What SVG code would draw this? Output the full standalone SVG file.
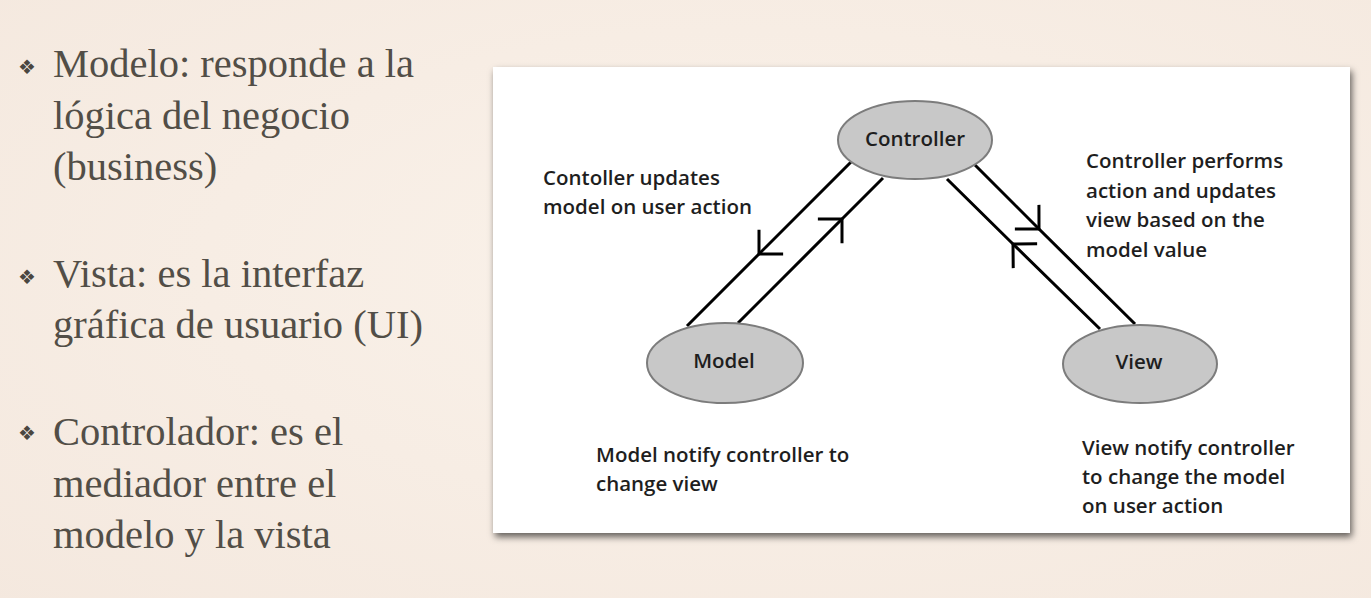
<svg xmlns="http://www.w3.org/2000/svg" width="1371" height="598" viewBox="0 0 1371 598">
  <defs>
    <radialGradient id="bg" cx="0.55" cy="0.45" r="0.8">
      <stop offset="0" stop-color="#faf2ea"/>
      <stop offset="1" stop-color="#f4e8de"/>
    </radialGradient>
    <filter id="panelShadow" x="-5%" y="-5%" width="110%" height="115%">
      <feDropShadow dx="2" dy="4" stdDeviation="3.5" flood-color="#000" flood-opacity="0.6"/>
    </filter>
    <marker id="halfArrow" viewBox="-20 -20 24 40" markerWidth="24" markerHeight="40" refX="0" refY="0" orient="auto" markerUnits="userSpaceOnUse">
      <polyline points="-16,-16 0,0 -16,16" fill="none" stroke="#000" stroke-width="3" stroke-linecap="square"/>
    </marker>
    <style>
      .bullet { font-family: "DejaVu Sans", sans-serif; font-size: 20px; fill: #4a4640; }
      .point { font-family: "Liberation Serif", "Times New Roman", serif; font-size: 40.5px; fill: #524e47; }
      .node { fill: #c8c8c8; stroke: #7c7c7c; stroke-width: 2; }
      .nlabel { font-family: "Open Sans", "Liberation Sans", sans-serif; font-weight: 600; font-size: 20.5px; fill: #1e1e1e; text-anchor: middle; }
      .note { font-family: "Open Sans", "Liberation Sans", sans-serif; font-weight: 600; font-size: 20.5px; fill: #1e1e1e; }
      .link { fill: none; stroke: #000; stroke-width: 3; marker-mid: url(#halfArrow); }
    </style>
  </defs>

  <!-- slide background -->
  <rect width="1371" height="598" fill="url(#bg)"/>

  <!-- bullet list -->
  <g id="bullets">
    <g id="bullet-modelo">
      <text class="bullet" x="27" y="74" text-anchor="middle">❖</text>
      <text class="point" x="53" y="77">Modelo: responde a la</text>
      <text class="point" x="53" y="128.5">lógica del negocio</text>
      <text class="point" x="53" y="180">(business)</text>
    </g>
    <g id="bullet-vista">
      <text class="bullet" x="27" y="284" text-anchor="middle">❖</text>
      <text class="point" x="53" y="287">Vista: es la interfaz</text>
      <text class="point" x="53" y="338">gráfica de usuario (UI)</text>
    </g>
    <g id="bullet-controlador">
      <text class="bullet" x="27" y="440" text-anchor="middle">❖</text>
      <text class="point" x="53" y="445">Controlador: es el</text>
      <text class="point" x="53" y="496.5">mediador entre el</text>
      <text class="point" x="53" y="548">modelo y la vista</text>
    </g>
  </g>

  <!-- MVC figure panel -->
  <rect id="panel" x="493" y="67" width="857" height="466" fill="#fff" filter="url(#panelShadow)"/>

  <!-- connectors: each path runs in the flow direction, arrowhead on its middle vertex -->
  <g id="connectors">
    <path class="link" d="M851,162 L759,254 L687,326"/>
    <path class="link" d="M738,323 L842,219 L883,178"/>
    <path class="link" d="M975,165 L1039,229 L1135,324"/>
    <path class="link" d="M1100,329 L1013,244 L947,179"/>
  </g>

  <g id="controller">
    <ellipse class="node" cx="915" cy="140" rx="77" ry="39"/>
    <text class="nlabel" x="915" y="146">Controller</text>
  </g>
  <g id="model">
    <ellipse class="node" cx="725" cy="363" rx="78" ry="40"/>
    <text class="nlabel" x="724" y="368">Model</text>
  </g>
  <g id="view">
    <ellipse class="node" cx="1140" cy="364" rx="77" ry="39"/>
    <text class="nlabel" x="1139" y="369">View</text>
  </g>

  <!-- annotations -->
  <g id="note-controller-model">
    <text class="note" x="543" y="185">Contoller updates</text>
    <text class="note" x="543" y="214">model on user action</text>
  </g>
  <g id="note-controller-view">
    <text class="note" x="1086" y="168">Controller performs</text>
    <text class="note" x="1086" y="198">action and updates</text>
    <text class="note" x="1086" y="227">view based on the</text>
    <text class="note" x="1086" y="257">model value</text>
  </g>
  <g id="note-model">
    <text class="note" x="596" y="462">Model notify controller to</text>
    <text class="note" x="596" y="491">change view</text>
  </g>
  <g id="note-view">
    <text class="note" x="1082" y="455">View notify controller</text>
    <text class="note" x="1082" y="484">to change the model</text>
    <text class="note" x="1082" y="513">on user action</text>
  </g>
</svg>
